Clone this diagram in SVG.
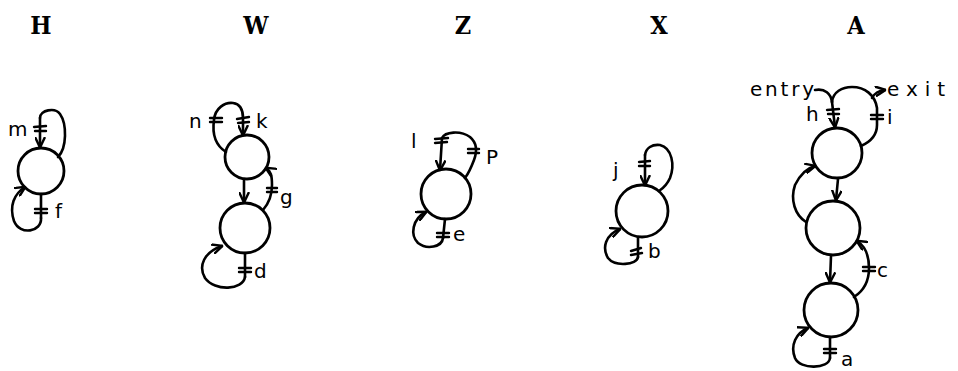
<svg xmlns="http://www.w3.org/2000/svg" width="958" height="371" viewBox="0 0 958 371">
<style>
.bg{fill:#fff}
.node{fill:none;stroke:#000;stroke-width:2.8}
.ln{fill:none;stroke:#000;stroke-width:2.6;stroke-linecap:round;stroke-linejoin:round}
.tk{fill:none;stroke:#000;stroke-width:2.4;stroke-linecap:round}
.arr{marker-end:url(#ah)}
.title{font-family:"DejaVu Serif","Liberation Serif",serif;font-weight:bold;font-size:25px;font-stretch:condensed;fill:#000;text-anchor:middle}
.lbl{font-family:"DejaVu Sans","Liberation Sans",sans-serif;font-size:20px;fill:#000}
</style>
<defs>
<marker id="ah" viewBox="0 0 10 10" refX="9" refY="5" markerWidth="11" markerHeight="11" markerUnits="userSpaceOnUse" orient="auto">
<path d="M0,0.5 L9.5,5 L0,9.5" fill="none" stroke="#000" stroke-width="2.2"/>
</marker>
</defs>
<rect class="bg" x="0" y="0" width="958" height="371"/>

<g id="titles">
<text class="title" x="41" y="34">H</text>
<text class="title" x="256" y="34">W</text>
<text class="title" x="463" y="34">Z</text>
<text class="title" x="659" y="34">X</text>
<text class="title" x="856" y="34">A</text>
</g>

<g id="H-node"><circle class="node" cx="41" cy="171" r="23"/></g>
<g id="W-top"><circle class="node" cx="247" cy="157" r="22"/></g>
<g id="W-bottom"><circle class="node" cx="245" cy="228" r="25"/></g>
<g id="Z-node"><circle class="node" cx="446" cy="194" r="25"/></g>
<g id="X-node"><circle class="node" cx="642" cy="211" r="26"/></g>
<g id="A-top"><circle class="node" cx="837" cy="153" r="25"/></g>
<g id="A-middle"><circle class="node" cx="833" cy="228" r="27"/></g>
<g id="A-bottom"><circle class="node" cx="831" cy="310" r="27"/></g>

<g id="connectors">
<!-- H -->
<path class="ln arr" d="M40,118 L40,147"/>
<path class="ln" d="M40,118 C40,110 55,107 60,114 C67,124 67,148 58,157"/>
<path class="ln" d="M41,194 L41,218"/>
<path class="ln arr" d="M41,218 C42,232 20,236 14,221 C9,206 14,194 25,187"/>
<!-- W -->
<path class="ln arr" d="M243,118 L243,135"/>
<path class="ln" d="M226,152 C215,145 212,134 214,120 C215,108 225,102 233,103 C240,104 243,110 243,118"/>
<path class="ln arr" d="M244,179 L244,202"/>
<path class="ln arr" d="M263,210 C270,202 272,195 272,185 C272,176 271,171 266,168"/>
<path class="ln" d="M245,253 L245,277"/>
<path class="ln arr" d="M245,277 C243,290 215,292 205,278 C198,266 204,252 222,246"/>
<!-- Z -->
<path class="ln arr" d="M442,138 L440,170"/>
<path class="ln" d="M442,138 C445,132 460,130 470,137 C477,143 477,152 474,160 C471,168 468,174 465,178"/>
<path class="ln" d="M445,219 L443,238"/>
<path class="ln arr" d="M443,238 C442,247 427,250 418,243 C410,235 412,219 426,212"/>
<!-- X -->
<path class="ln arr" d="M645,155 L645,185"/>
<path class="ln" d="M645,155 C646,148 652,144 660,145 C672,148 675,165 670,178 C667,185 662,189 659,191"/>
<path class="ln" d="M638,237 L638,257"/>
<path class="ln arr" d="M638,257 C637,265 615,267 608,258 C602,248 605,235 620,229"/>
<!-- A -->
<path class="ln" d="M815,90 C825,88 831,94 832,102"/>
<path class="ln arr" d="M832,102 L835,127"/>
<path class="ln" d="M832,102 C833,92 842,87 852,87 C865,87 875,95 877,108 L877,125 C877,135 870,142 861,146"/>
<path class="ln arr" d="M872,98 C875,93 878,91 885,90"/>
<path class="ln arr" d="M838,179 L836,200"/>
<path class="ln arr" d="M806,222 C795,215 790,200 795,185 C800,175 807,168 815,166"/>
<path class="ln arr" d="M831,256 L830,282"/>
<path class="ln arr" d="M854,297 C865,290 869,280 869,268 C869,255 865,246 857,241"/>
<path class="ln" d="M830,337 L830,358"/>
<path class="ln arr" d="M830,358 C829,369 800,370 795,358 C790,345 796,333 808,328"/>
</g>

<g id="ticks">
<path class="tk" d="M34,127 L46,126 M35,131 L46,131"/>
<path class="tk" d="M35,209 L47,209 M35,213 L47,213"/>
<path class="tk" d="M210,118 L222,118 M210,122 L222,122"/>
<path class="tk" d="M237,119 L249,117 M238,123 L249,122"/>
<path class="tk" d="M267,188 L277,188 M267,192 L277,192"/>
<path class="tk" d="M239,268 L251,268 M239,272 L251,272"/>
<path class="tk" d="M435,139 L448,138 M435,143 L447,142"/>
<path class="tk" d="M468,149 L479,149 M468,153 L479,153"/>
<path class="tk" d="M437,233 L449,233 M437,237 L449,237"/>
<path class="tk" d="M639,162 L650,161 M639,166 L650,166"/>
<path class="tk" d="M631,251 L641,248 M631,255 L642,253"/>
<path class="tk" d="M827,110 L839,109 M828,114 L839,114"/>
<path class="tk" d="M871,115 L883,115 M871,119 L883,119"/>
<path class="tk" d="M863,267 L875,267 M863,271 L875,271"/>
<path class="tk" d="M824,349 L836,349 M824,353 L836,353"/>
</g>

<g id="labels">
<text class="lbl" x="8" y="136">m</text>
<text class="lbl" x="55" y="218">f</text>
<text class="lbl" x="189" y="128">n</text>
<text class="lbl" x="256" y="128">k</text>
<text class="lbl" x="280" y="204" font-size="22">g</text>
<text class="lbl" x="254" y="278">d</text>
<text class="lbl" x="411" y="148">l</text>
<text class="lbl" x="486" y="164">P</text>
<text class="lbl" x="453" y="241">e</text>
<text class="lbl" x="613" y="177">j</text>
<text class="lbl" x="648" y="258">b</text>
<text class="lbl" x="750" y="96" textLength="64" lengthAdjust="spacing">entry</text>
<text class="lbl" x="887" y="96" textLength="58" lengthAdjust="spacing">exit</text>
<text class="lbl" x="806" y="121" font-size="18">h</text>
<text class="lbl" x="887" y="124">i</text>
<text class="lbl" x="877" y="277">c</text>
<text class="lbl" x="841" y="366">a</text>
</g>
</svg>
